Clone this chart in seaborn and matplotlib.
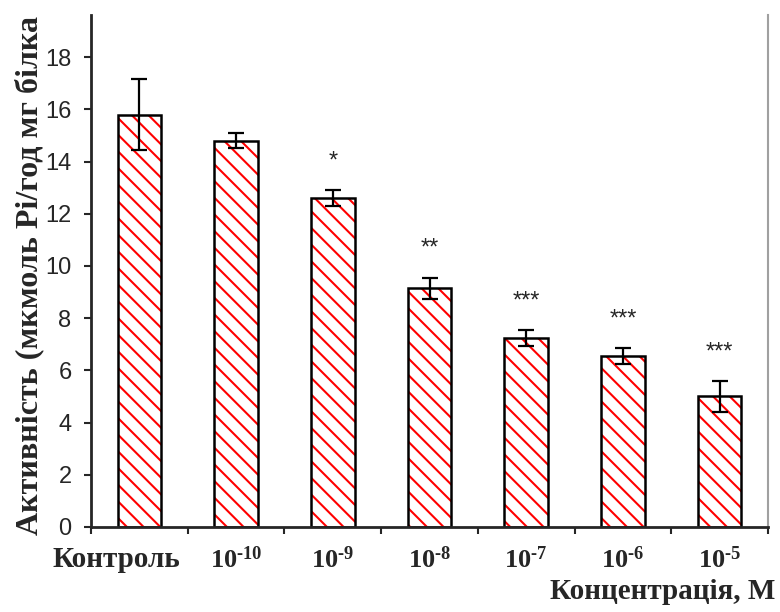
import matplotlib
matplotlib.use("Agg")
import matplotlib.pyplot as plt
import matplotlib.transforms as mtransforms
import seaborn as sns

sns.set_style("white")
plt.rcParams["font.family"] = ["Liberation Sans", "DejaVu Sans"]
plt.rcParams["mathtext.default"] = "regular"
plt.rcParams["hatch.linewidth"] = 1.5

# дані
kategorii = ["Контроль", "10$^{‐10}$", "10$^{‐9}$", "10$^{‐8}$", "10$^{‐7}$", "10$^{‐6}$", "10$^{‐5}$"]
aktyvnist = [15.8, 14.8, 12.6, 9.15, 7.25, 6.55, 5.0]
pomylka = [1.35, 0.3, 0.3, 0.4, 0.3, 0.3, 0.6]
zirky = ["", "", "*", "**", "***", "***", "***"]

fig = plt.figure(figsize=(7.8, 6.12), dpi=100)
ax = fig.add_axes([0.1167, 0.1389, 0.8679, 0.836])

# штрихування червоним
sns.barplot(x=kategorii, y=aktyvnist, width=0.45, color="white",
            edgecolor="red", hatch="\\\\", linewidth=0, ax=ax)
# чорний контур
sns.barplot(x=kategorii, y=aktyvnist, width=0.45, fill=False,
            edgecolor="black", linewidth=1.8, ax=ax)

x = range(len(kategorii))
ax.errorbar(x, aktyvnist, yerr=pomylka, fmt="none", ecolor="black",
            elinewidth=1.6, capsize=6, capthick=1.6)

for i, s in enumerate(zirky):
    if s:
        ax.text(i, aktyvnist[i] + pomylka[i] + 1.1, s, ha="center", va="center", fontsize=17)

ax.set_ylim(0, 19.6)
ax.set_xlim(-0.5, 6.5)
ax.set_yticks(range(0, 19, 2))
ax.tick_params(axis="y", labelsize=17, length=5, width=1.5, direction="out", left=True, pad=9)

# поділки між категоріями, підписи по центру
ax.set_xticks([i - 0.5 for i in range(len(kategorii) + 1)])
ax.set_xticklabels([])
ax.set_xticks(list(x), minor=True)
ax.set_xticklabels(kategorii, minor=True, fontfamily="Liberation Serif",
                   fontweight="bold", fontsize=19)
ax.tick_params(axis="x", which="major", length=5, width=1.5, direction="out", bottom=True)
ax.tick_params(axis="x", which="minor", length=0, pad=14)

# "Контроль" трохи лівіше, як в оригіналі
kontrol = ax.get_xticklabels(minor=True)[0]
kontrol.set_fontsize(21)
kontrol.set_transform(kontrol.get_transform() +
                      mtransforms.ScaledTranslation(-0.23, 0, fig.dpi_scale_trans))

ax.spines["top"].set_visible(False)
ax.spines["right"].set_color("#a0a0a0")
ax.spines["right"].set_linewidth(1.5)
ax.spines["left"].set_linewidth(2)
ax.spines["bottom"].set_linewidth(2)
ax.set_xlabel("")
ax.set_ylabel("")

fig.text(0.037, 0.126, "Активність (мкмоль Pi/год мг білка", rotation=90,
         ha="center", va="bottom", fontfamily="Liberation Serif",
         fontweight="bold", fontsize=23)
fig.text(0.994, 0.033, "Концентрація, М", ha="right", va="center",
         fontfamily="Liberation Serif", fontweight="bold", fontsize=21)

fig.savefig("out.png", dpi=100)
